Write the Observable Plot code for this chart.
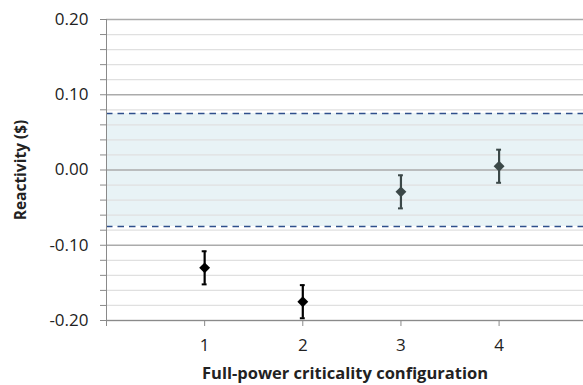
<!DOCTYPE html>
<html>
<head>
<meta charset="utf-8">
<script src="https://cdn.jsdelivr.net/npm/d3@7"></script>
<script src="https://cdn.jsdelivr.net/npm/@observablehq/plot@0.6"></script>
<style>
  html, body { margin: 0; padding: 0; background: #fff; }
</style>
</head>
<body>
<div id="chart"></div>
<script>
const configs = [1, 2, 3, 4];
const reactivity = [-0.130, -0.175, -0.029, 0.005];
const uncertainty = [0.022, 0.022, 0.022, 0.022];
const pointColors = ["#000000", "#000000", "#3b4848", "#3b4848"];
const xTicks = [1, 2, 3, 4];
const yMajorTicks = [-0.2, -0.1, 0, 0.1, 0.2];
const yMinorTicks = [-0.18, -0.16, -0.14, -0.12, -0.08, -0.06, -0.04, -0.02, 0.02, 0.04, 0.06, 0.08, 0.12, 0.14, 0.16, 0.18];
const bandLimits = [-0.075, 0.075];
const xDomain = [0, 4.86];

const data = configs.map((c, i) => ({
  x: c, y: reactivity[i], lo: reactivity[i] - uncertainty[i], hi: reactivity[i] + uncertainty[i], color: pointColors[i]
}));

const chart = Plot.plot({
  width: 583,
  height: 385,
  marginLeft: 106,
  marginRight: 0,
  marginTop: 19,
  marginBottom: 65,
  style: { fontFamily: "'Open Sans', sans-serif", fontSize: "17px", color: "#222", background: "#fff" },
  x: { domain: xDomain },
  y: { domain: [-0.2, 0.2] },
  marks: [
    Plot.rect([bandLimits], { x1: xDomain[0], x2: xDomain[1], y1: d => d[0], y2: d => d[1], fill: "#e8f3f6" }),
    Plot.ruleY(yMinorTicks, { stroke: "#e0e0e0", strokeWidth: 1.2 }),
    Plot.ruleY(yMajorTicks, { stroke: "#ababab", strokeWidth: 1.3 }),
    Plot.ruleY(bandLimits, { stroke: "#2f4f8c", strokeWidth: 1.6, strokeDasharray: "6.5,5" }),
    Plot.ruleX([xDomain[0]], { stroke: "#8a8a8a", strokeWidth: 1 }),
    Plot.ruleY([-0.2], { stroke: "#8a8a8a", strokeWidth: 1 }),
    Plot.axisY(yMinorTicks, { tickSize: 6, text: null, stroke: "#8a8a8a", label: null }),
    Plot.axisY(yMajorTicks, {
      tickSize: 6, tickPadding: 12, stroke: "#8a8a8a",
      tickFormat: d => d.toFixed(2), label: null
    }),
    Plot.axisY([], {
      tickSize: 0, label: "Reactivity ($)", labelAnchor: "center", labelArrow: "none", labelOffset: 92,
      fontWeight: "bold", fontSize: 15.5, dy: 10
    }),
    Plot.axisX([0, ...xTicks], { tickSize: 6, text: null, stroke: "#8a8a8a", label: null }),
    Plot.axisX(xTicks, {
      tickSize: 0, tickPadding: 18, tickFormat: d => String(d), label: null
    }),
    Plot.axisX([], {
      tickSize: 0, label: "Full-power criticality configuration", labelAnchor: "center", labelArrow: "none", labelOffset: 58,
      fontWeight: "bold", fontSize: 16.5
    }),
    Plot.ruleX(data, { x: "x", y1: "lo", y2: "hi", stroke: "color", strokeWidth: 2.2 }),
    Plot.ruleY(data, { y: "lo", x1: d => d.x - 0.025, x2: d => d.x + 0.025, stroke: "color", strokeWidth: 2 }),
    Plot.ruleY(data, { y: "hi", x1: d => d.x - 0.025, x2: d => d.x + 0.025, stroke: "color", strokeWidth: 2 }),
    Plot.dot(data, { x: "x", y: "y", symbol: "diamond2", r: 4.9, fill: "color", stroke: "none" })
  ]
});
document.getElementById("chart").appendChild(chart);
</script>
</body>
</html>
